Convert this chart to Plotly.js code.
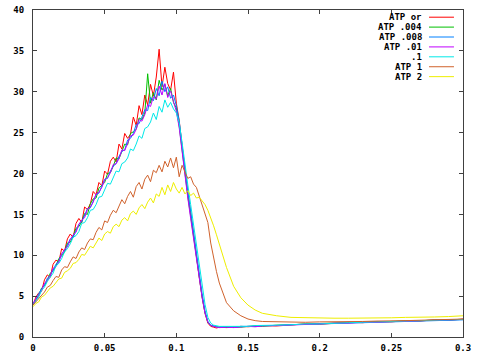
<!DOCTYPE html>
<html>
<head>
<meta charset="utf-8">
<script src="https://cdn.plot.ly/plotly-3.0.1.min.js"></script>
<style>html,body{margin:0;padding:0;background:#fff;}#chart{width:480px;height:360px;}</style>
</head>
<body>
<div id="chart"></div>
<script>
const xVals = [0,.002,.004,.006,.008,.010,.012,.014,.016,.018,.020,.022,.024,.026,.028,.030,.032,.034,.036,.038,.040,.042,.044,.046,.048,.050,.052,.054,.056,.058,.060,.062,.064,.066,.068,.070,.072,.074,.076,.078,.080,.082,.084,.086,.088,.090,.092,.094,.096,.098,.100,.102,.104,.106,.108,.110,.112,.114,.116,.118,.120,.122,.124,.126,.128,.130,.135,.14,.145,.15,.155,.16,.17,.18,.19,.2,.21,.22,.23,.24,.25,.26,.27,.28,.29,.3];

const seriesNames = ["ATP or", "ATP .004", "ATP .008", "ATP .01", ".1", "ATP 1", "ATP 2"];
const seriesColors = ["#ff0000", "#00c000", "#0080ff", "#c000ff", "#00e8e8", "#d0622c", "#eeee00"];

const atpOr = [3.9,4.9,5.4,5.6,7.0,7.6,7.3,8.9,9.4,9.2,10.8,10.5,12.0,12.6,12.2,13.9,14.5,14.0,15.9,15.6,16.3,17.8,17.4,18.9,18.5,20.3,19.9,21.5,22.0,21.4,23.6,23.0,24.9,24.3,24.8,26.9,25.9,28.3,27.2,29.6,28.4,30.9,29.5,31.8,35.2,30.6,33.0,31.0,30.2,32.4,28.6,26.5,23.4,20.3,17.6,15.2,12.4,9.9,7.3,4.9,2.9,1.7,1.3,1.2,1.1,1.2,1.15,1.2,1.3,1.25,1.3,1.4,1.35,1.5,1.6,1.55,1.7,1.8,1.75,1.9,1.85,2.0,1.95,2.1,2.05,2.2];

const atp004 = [4.0,4.5,5.1,6.0,6.3,6.9,7.8,8.1,8.7,9.6,9.9,10.4,11.5,11.6,12.3,13.3,13.5,14.1,15.1,15.0,16.3,16.9,17.0,18.2,18.6,18.9,20.0,20.1,20.9,21.9,21.8,22.8,23.6,23.5,24.9,25.1,25.4,26.8,26.6,27.4,32.2,28.6,29.9,29.0,31.4,30.2,30.9,29.5,30.4,28.7,28.0,25.8,22.7,19.7,17.2,14.8,12.3,9.8,7.4,4.9,3.0,1.8,1.4,1.3,1.25,1.2,1.2,1.25,1.2,1.3,1.35,1.3,1.45,1.5,1.6,1.65,1.7,1.75,1.85,1.85,1.95,1.95,2.05,2.05,2.1,2.15];

const atp008 = [4.1,4.6,5.3,5.9,6.3,7.2,7.5,8.3,8.9,9.3,10.2,10.5,11.2,12.0,12.2,13.1,13.8,14.1,14.8,15.7,15.8,16.7,17.4,17.6,18.4,19.3,19.4,20.3,20.9,21.2,22.1,22.7,22.9,24.1,24.3,24.9,26.0,26.1,26.9,27.8,27.7,29.3,28.9,30.4,29.5,31.3,30.0,30.6,29.2,29.6,28.3,26.4,23.5,20.4,17.8,15.4,12.8,10.3,7.8,5.3,3.2,1.9,1.45,1.3,1.25,1.2,1.25,1.2,1.3,1.3,1.3,1.4,1.4,1.5,1.55,1.65,1.65,1.75,1.8,1.85,1.9,1.95,2.0,2.0,2.1,2.1];

const atp01 = [4.0,4.7,5.1,5.7,6.6,6.9,7.5,8.4,8.6,9.2,10.1,10.7,11.0,11.9,12.5,12.8,13.8,14.3,14.6,15.6,15.9,16.5,17.5,17.7,18.3,19.2,19.5,20.1,21.1,21.2,21.8,22.9,22.8,23.6,24.6,24.7,25.4,26.6,26.4,27.2,28.4,28.2,29.4,29.1,30.7,29.6,31.0,29.3,30.1,28.8,27.6,25.6,22.5,19.5,17.0,14.5,12.0,9.6,7.2,4.8,2.9,1.8,1.4,1.25,1.2,1.15,1.2,1.15,1.2,1.3,1.25,1.35,1.4,1.45,1.5,1.6,1.7,1.7,1.8,1.8,1.9,1.9,2.0,2.05,2.05,2.15];

const atp1tenth = [3.9,4.4,4.9,5.7,6.1,6.8,7.3,7.8,8.7,9.0,9.6,10.4,10.8,11.4,12.2,12.4,12.9,13.9,14.0,14.6,15.5,15.6,16.2,17.1,17.2,17.9,18.8,18.7,19.5,20.3,20.2,21.2,21.4,21.9,23.0,22.8,23.6,24.6,24.3,25.5,25.7,26.3,27.4,26.6,28.2,27.5,29.0,28.1,28.7,27.9,27.4,26.2,23.8,21.0,18.6,16.2,13.8,11.3,8.8,6.3,4.0,2.4,1.7,1.45,1.35,1.3,1.3,1.3,1.35,1.3,1.4,1.4,1.45,1.5,1.6,1.6,1.7,1.75,1.8,1.85,1.9,1.95,2.0,2.05,2.1,2.15];

const atp1 = [3.9,4.3,4.7,5.2,5.5,6.1,6.3,6.9,7.4,7.3,8.2,8.6,8.5,9.2,9.8,9.6,10.4,10.9,10.7,11.5,12.0,11.9,12.8,13.4,13.1,14.2,14.0,14.9,15.5,15.2,16.1,16.8,16.3,17.2,17.8,17.1,18.4,18.9,18.1,19.3,19.8,19.0,20.4,20.1,21.0,20.2,21.5,20.8,21.9,20.7,22.0,19.6,21.0,20.2,19.4,19.6,18.7,18.3,17.2,16.4,15.3,14.0,11.5,9.5,8.0,6.6,4.2,3.2,2.6,2.2,2.0,1.9,1.85,1.8,1.8,1.85,1.85,1.9,1.9,1.95,1.95,2.0,2.05,2.1,2.1,2.2];

const atp2 = [3.7,4.1,4.3,4.9,5.1,5.5,6.0,6.2,6.7,7.1,7.2,7.9,8.1,8.4,9.0,9.1,9.5,10.1,10.0,10.6,11.1,10.9,11.6,12.1,11.8,12.6,12.9,12.7,13.5,13.8,13.5,14.3,14.6,14.2,15.1,15.4,15.0,15.8,16.2,15.7,16.5,17.0,16.4,17.5,17.2,18.3,17.4,18.6,17.8,18.9,18.1,17.6,18.3,17.5,17.9,17.3,17.6,17.0,17.1,16.6,16.2,15.5,14.6,13.6,12.5,11.3,8.5,6.2,4.8,3.9,3.3,2.9,2.6,2.4,2.35,2.3,2.3,2.3,2.3,2.35,2.35,2.4,2.4,2.45,2.5,2.6];

const allSeries = [atpOr, atp004, atp008, atp01, atp1tenth, atp1, atp2];

const xTickVals = [0, 0.05, 0.1, 0.15, 0.2, 0.25, 0.3];
const xTickText = ["0", "0.05", "0.1", "0.15", "0.2", "0.25", "0.3"];
const yTickVals = [0, 5, 10, 15, 20, 25, 30, 35, 40];
const yTickText = ["0", "5", "10", "15", "20", "25", "30", "35", "40"];

const traces = allSeries.map((ys, i) => ({
  x: xVals, y: ys, type: "scatter", mode: "lines", name: seriesNames[i],
  line: {color: seriesColors[i], width: 1}, showlegend: false, hoverinfo: "skip"
}));

const FONT = "DejaVu Sans Mono, monospace";
const annotations = [];
const shapes = [];
const legTop = 0.978, legStep = 0.0303;
seriesNames.forEach((n, i) => {
  const yy = legTop - i * legStep;
  annotations.push({xref: "paper", yref: "paper", x: 0.909, y: yy, xanchor: "right", yanchor: "middle",
    text: "<b>" + n + "</b>", showarrow: false, font: {family: FONT, size: 9, color: "#000"}});
  shapes.push({type: "line", xref: "paper", yref: "paper", x0: 0.921, x1: 0.979, y0: yy, y1: yy,
    line: {color: seriesColors[i], width: 1}});
});

const axisCommon = {
  showgrid: false, zeroline: false, showline: true, linecolor: "#404040", linewidth: 1,
  mirror: "ticks", ticks: "inside", ticklen: 4, tickcolor: "#404040",
  tickfont: {family: FONT, size: 9, color: "#000", weight: "bold"}
};

const layout = {
  width: 480, height: 360,
  margin: {l: 33, r: 17, t: 10, b: 23, pad: 0},
  paper_bgcolor: "#fff", plot_bgcolor: "#fff",
  xaxis: Object.assign({}, axisCommon, {range: [0, 0.3], tickvals: xTickVals, ticktext: xTickText.map(t => "<b>" + t + "</b>"), ticklabelstandoff: 2}),
  yaxis: Object.assign({}, axisCommon, {range: [0, 40], tickvals: yTickVals, ticktext: yTickText.map(t => "<b>" + t + "</b>"), ticklabelstandoff: 6}),
  annotations: annotations,
  shapes: shapes,
  showlegend: false
};

Plotly.newPlot("chart", traces, layout, {displayModeBar: false, staticPlot: true});
</script>
</body>
</html>
